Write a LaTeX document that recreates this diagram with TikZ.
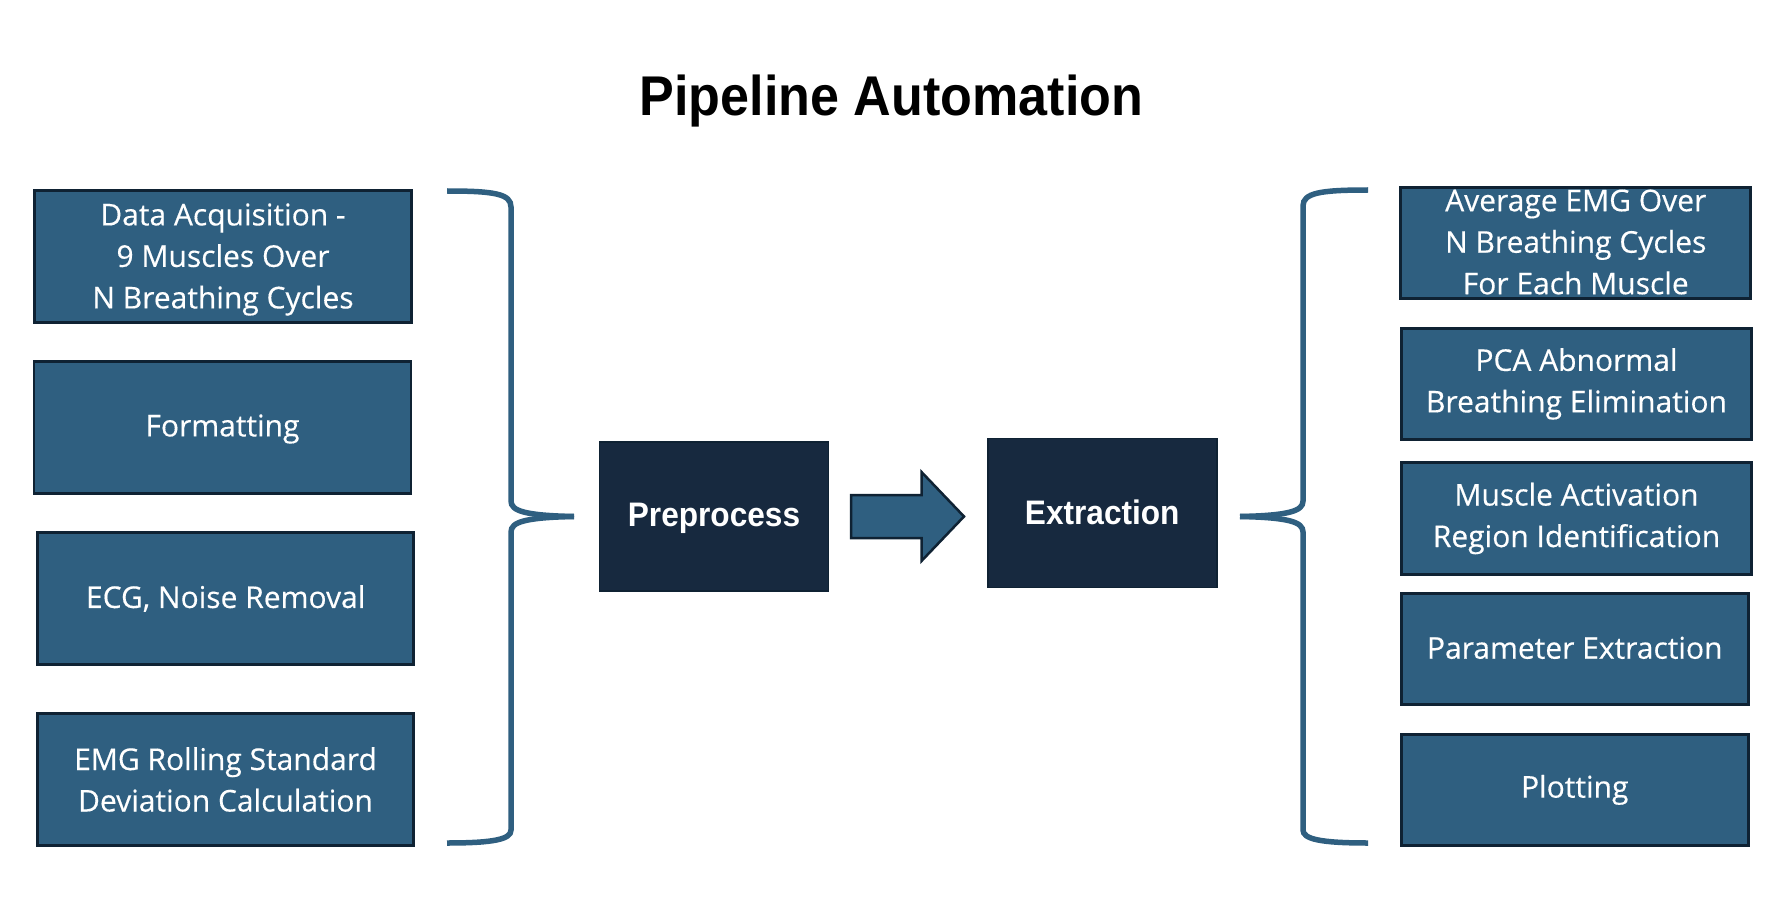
\documentclass[tikz,border=0pt]{standalone}
\usepackage{fontspec}
\setmainfont[FakeBold=0.35]{Open Sans}
\newfontfamily\headfont[FakeStretch=0.93]{Liberation Sans}
\definecolor{boxblue}{HTML}{2F5F80}
\definecolor{boxline}{HTML}{0F2233}
\definecolor{darkbox}{HTML}{17293F}
\tikzset{
  stepbox/.style={draw=boxline, line width=2.8pt, fill=boxblue, inner sep=0pt, outer sep=0pt},
  steplbl/.style={text=white, font=\fontsize{30}{41.5}\selectfont, align=center, inner sep=0pt},
  phasebox/.style={draw=boxline, line width=1.5pt, fill=darkbox, inner sep=0pt, outer sep=0pt,
    minimum width=229pt, minimum height=149pt},
  phaselbl/.style={text=white, font=\headfont\bfseries\fontsize{34}{40}\selectfont, inner sep=0pt},
  bracepath/.style={draw=boxblue, line width=5.5pt, line cap=butt},
  blockarrow/.style={draw=boxline, line width=2.5pt, fill=boxblue, line join=miter}
}
\begin{document}
\begin{tikzpicture}[x=1pt,y=-1pt]
\path[use as bounding box, fill=white] (0,0) rectangle (1786,912);

% title
\node[font=\headfont\bfseries\fontsize{56}{60}\selectfont, anchor=base, inner sep=0pt] (title) at (891.5,115.7) {Pipeline Automation};

% left boxes
\node[stepbox, minimum width=377pt, minimum height=132pt] (b1) at (223,256.5) {};
\node[steplbl, yshift=-3pt] (b1t) at (b1.center) {Data Acquisition -\\9 Muscles Over\\N Breathing Cycles};
\node[stepbox, minimum width=377pt, minimum height=132pt] (b2) at (222.5,427.5) {};
\node[steplbl, yshift=-1.5pt] (b2t) at (b2.center) {Formatting};
\node[stepbox, minimum width=376pt, minimum height=132pt] (b3) at (225.7,598.5) {};
\node[steplbl] (b3t) at (b3.center) {ECG, Noise Removal};
\node[stepbox, minimum width=376pt, minimum height=132pt] (b4) at (225.5,779.5) {};
\node[steplbl] (b4t) at (b4.center) {EMG Rolling Standard\\Deviation Calculation};

% left brace
\coordinate (ltip) at (574,516.5);
\draw[bracepath] (447,191) .. controls (495,191) and (511,194) .. (511,207) -- (511,501)
   .. controls (511,511) and (525,515.5) .. (ltip);
\draw[bracepath] (ltip) .. controls (525,517.5) and (511,522) .. (511,532) -- (511,830)
   .. controls (511,839) and (495,843) .. (447,843);

% phase boxes
\node[phasebox] (pre) at (714,516.7) {};
\node[phaselbl, yshift=-2pt] (pret) at (pre.center) {Preprocess};
\node[phasebox] (ext) at (1102.25,513) {};
\node[phaselbl, yshift=1pt] (extt) at (ext.center) {Extraction};

% block arrow
\draw[blockarrow] (851,495) -- (921.5,495) -- (921.5,472) -- (964,516.5) -- (921.5,561)
   -- (921.5,538) -- (851,538) -- cycle;

% right brace
\coordinate (rtip) at (1240,516.5);
\draw[bracepath] (1368,190) .. controls (1320,190) and (1303,193) .. (1303,206) -- (1303,501)
   .. controls (1303,511) and (1289,515.5) .. (rtip);
\draw[bracepath] (rtip) .. controls (1289,517.5) and (1303,522) .. (1303,532) -- (1303,830)
   .. controls (1303,839) and (1320,843) .. (1368,843);

% right boxes
\node[stepbox, minimum width=350pt, minimum height=111pt] (r1) at (1575.75,243) {};
\node[steplbl, yshift=1pt] (r1t) at (r1.center) {Average EMG Over\\N Breathing Cycles\\For Each Muscle};
\node[stepbox, minimum width=350pt, minimum height=111pt] (r2) at (1576.5,383.85) {};
\node[steplbl] (r2t) at (r2.center) {PCA Abnormal\\Breathing Elimination};
\node[stepbox, minimum width=350pt, minimum height=112pt] (r3) at (1576.5,518.5) {};
\node[steplbl] (r3t) at (r3.center) {Muscle Activation\\Region Identification};
\node[stepbox, minimum width=347pt, minimum height=111pt] (r4) at (1574.75,648.85) {};
\node[steplbl, yshift=1pt] (r4t) at (r4.center) {Parameter Extraction};
\node[stepbox, minimum width=347pt, minimum height=111pt] (r5) at (1574.75,789.85) {};
\node[steplbl] (r5t) at (r5.center) {Plotting};
\end{tikzpicture}
\end{document}
